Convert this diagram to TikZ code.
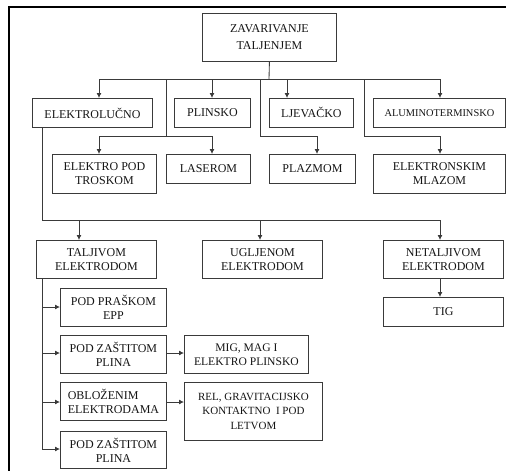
\documentclass[tikz,border=0pt]{standalone}
\usepackage{fontspec}
\setmainfont{Liberation Serif}
\usetikzlibrary{arrows.meta}
\definecolor{lnc}{HTML}{3A3A3A}
\definecolor{txc}{HTML}{141414}
\begin{document}
\begin{tikzpicture}[x=1pt,y=-1pt,
  box/.style={draw=lnc,line width=0.85pt,inner sep=0pt,anchor=north west,align=center,
    text=txc,font=\fontsize{12}{14}\selectfont},
  conn/.style={draw=lnc,line width=0.85pt},
  arr/.style={conn,-{Latex[length=5pt,width=5pt]}}]
\useasboundingbox (0,0) rectangle (506,471);
% frame
\draw[line width=2pt,black] (506,7) -- (9,7) -- (9,471);
% nodes
\node[box,minimum width=134,minimum height=48,font=\fontsize{12}{17}\selectfont] (zav) at (202,13) {ZAVARIVANJE\\TALJENJEM};
\node[box,minimum width=120,minimum height=29] (ele) at (32,98) {ELEKTROLUČNO};
\node[box,minimum width=76,minimum height=29] (pli) at (174,98) {PLINSKO};
\node[box,minimum width=84,minimum height=29] (ljev) at (269,98) {LJEVAČKO};
\node[box,minimum width=132,minimum height=29,font=\fontsize{10.4}{13}\selectfont] (alu) at (373,98) {ALUMINOTERMINSKO};
\node[box,minimum width=104,minimum height=39] (ept) at (52,154) {ELEKTRO POD\\TROSKOM};
\node[box,minimum width=84,minimum height=29] (las) at (166,154) {LASEROM};
\node[box,minimum width=86,minimum height=29] (pla) at (269,154) {PLAZMOM};
\node[box,minimum width=132,minimum height=39] (emz) at (373,154) {ELEKTRONSKIM\\MLAZOM};
\node[box,minimum width=120,minimum height=38] (tal) at (36,240) {TALJIVOM\\ELEKTRODOM};
\node[box,minimum width=120,minimum height=38] (ugl) at (202,240) {UGLJENOM\\ELEKTRODOM};
\node[box,minimum width=120,minimum height=38] (net) at (383,240) {NETALJIVOM\\ELEKTRODOM};
\node[box,minimum width=120,minimum height=29] (tig) at (383,297) {TIG};
\node[box,minimum width=106,minimum height=38] (epp) at (60,288) {POD PRAŠKOM\\EPP};
\node[box,minimum width=106,minimum height=38] (zas1) at (60,335) {POD ZAŠTITOM\\PLINA};
\node[box,minimum width=106,minimum height=38,align=left] (obl) at (60,382) {OBLOŽENIM\\ELEKTRODAMA};
\node[box,minimum width=106,minimum height=37] (zas2) at (60,431) {POD ZAŠTITOM\\PLINA};
\node[box,minimum width=124,minimum height=38,font=\fontsize{11.6}{14}\selectfont] (mig) at (184,335) {MIG, MAG I\\ELEKTRO PLINSKO};
\node[box,minimum width=138,minimum height=58,font=\fontsize{11}{14.5}\selectfont] (rel) at (184,382) {REL, GRAVITACIJSKO\\KONTAKTNO\ \ I POD\\LETVOM};
% coordinates
\coordinate (t0) at (269,79);
\coordinate (b1) at (99,79);
\coordinate (b2) at (212,79);
\coordinate (b3) at (287,79);
\coordinate (b4) at (440,79);
\coordinate (s1) at (166,79);
\coordinate (s2) at (260,79);
\coordinate (s3) at (364,79);
\coordinate (h1) at (166,136);
\coordinate (h1l) at (99,136);
\coordinate (h1r) at (212,136);
\coordinate (h2) at (260,136);
\coordinate (h2r) at (317,136);
\coordinate (h3) at (364,136);
\coordinate (h3r) at (440,136);
\coordinate (e0) at (42,127);
\coordinate (e1) at (42,220);
\coordinate (e2) at (79,220);
\coordinate (e3) at (260,220);
\coordinate (e4) at (440,220);
\coordinate (k0) at (42,278);
\coordinate (k1) at (42,307);
\coordinate (k2) at (42,353);
\coordinate (k3) at (42,402);
\coordinate (k4) at (42,449);
% connectors
\draw[conn] (zav.south) -- (t0);
\draw[conn] (b1) -- (b4);
\draw[arr] (b1) -- (b1 |- ele.north);
\draw[arr] (b2) -- (b2 |- pli.north);
\draw[arr] (b3) -- (b3 |- ljev.north);
\draw[arr] (b4) -- (b4 |- alu.north);
\draw[conn] (s1) -- (h1);
\draw[conn] (h1l) -- (h1r);
\draw[arr] (h1l) -- (h1l |- ept.north);
\draw[arr] (h1r) -- (h1r |- las.north);
\draw[conn] (s2) -- (h2) -- (h2r);
\draw[arr] (h2r) -- (h2r |- pla.north);
\draw[conn] (s3) -- (h3) -- (h3r);
\draw[arr] (h3r) -- (h3r |- emz.north);
\draw[conn] (e0) -- (e1) -- (e4);
\draw[arr] (e2) -- (e2 |- tal.north);
\draw[arr] (e3) -- (e3 |- ugl.north);
\draw[arr] (e4) -- (e4 |- net.north);
\draw[arr] (e4 |- net.south) -- (e4 |- tig.north);
\draw[conn] (k0) -- (k4);
\draw[arr] (k1) -- (k1 -| epp.west);
\draw[arr] (k2) -- (k2 -| zas1.west);
\draw[arr] (k3) -- (k3 -| obl.west);
\draw[arr] (k4) -- (k4 -| zas2.west);
\draw[arr] (k2 -| zas1.east) -- (k2 -| mig.west);
\draw[arr] (k3 -| obl.east) -- (k3 -| rel.west);
\end{tikzpicture}
\end{document}
